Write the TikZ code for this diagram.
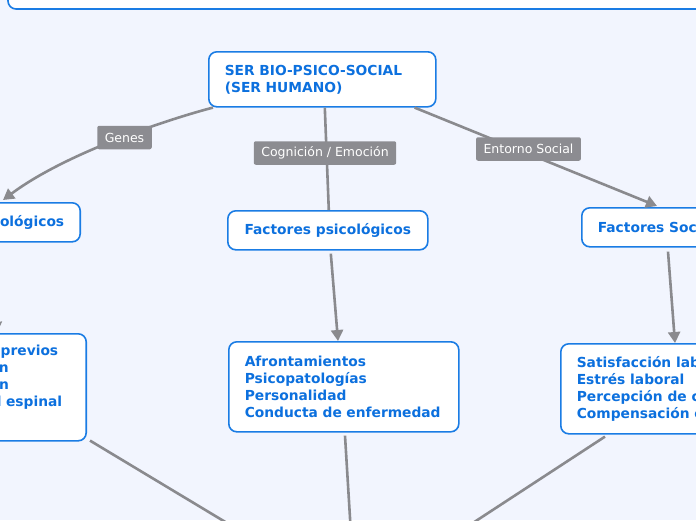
\documentclass[tikz,border=0pt]{standalone}
\usepackage{fontspec}
\setmainfont{DejaVu Sans}
\usetikzlibrary{arrows.meta,calc}
\definecolor{bg}{RGB}{242,245,254}
\definecolor{bord}{RGB}{26,124,228}
\definecolor{txt}{RGB}{12,112,222}
\definecolor{lin}{RGB}{138,138,142}
\definecolor{lab}{RGB}{140,140,145}
\tikzset{
  box/.style={draw=bord, line width=1.6pt, fill=white, rounded corners=8pt,
    text=txt, font=\bfseries\fontsize{13.8}{17}\selectfont, align=left,
    inner xsep=16pt, inner ysep=4pt},
  lbl/.style={fill=lab, rounded corners=2pt, text=white,
    font=\fontsize{12.5}{14}\selectfont, inner xsep=7.5pt, inner ysep=2pt,
    minimum height=23.5pt},
  conn/.style={draw=lin, line width=2.6pt},
  arr/.style={conn, -{Triangle[length=11pt,width=12pt]}},
}
\begin{document}
\begin{tikzpicture}[x=1pt,y=-1pt]
\useasboundingbox (0,0) rectangle (696,520);
\fill[bg] (0,0) rectangle (696,520);
\begin{scope}
\clip (0,0) rectangle (696,520);
% top box
\draw[draw=bord, line width=1.6pt, fill=white, rounded corners=8pt] (8,-30) rectangle (720,9);
% nodes
\node[box, anchor=north west, text width=195pt, minimum height=55pt] (root) at (208,51) {SER BIO-PSICO-SOCIAL\\(SER HUMANO)};
\node[box, anchor=north east, minimum height=39pt] (bio) at (81,202) {Factores biológicos};
\node[box, anchor=north west, minimum width=200pt, minimum height=39pt] (psico) at (227,210) {Factores psicológicos};
\node[box, anchor=north west, minimum height=39pt] (social) at (581,207) {Factores Sociales};
\node[box, anchor=north east, text width=112pt, minimum height=107pt] (biolist) at (87,333) {Ictus previos\\Lesión\\Fusión\\Canal espinal\\\strut};
\node[box, anchor=north west, text width=198pt, minimum height=90pt] (psicolist) at (228,341) {Afrontamientos\\Psicopatologías\\Personalidad\\Conducta de enfermedad};
\node[box, anchor=north west, minimum height=90pt] (sociallist) at (560,343) {Satisfacción laboral\\Estrés laboral\\Percepción de carga\\Compensación económica};
\coordinate (bioin) at (3,200);
\coordinate (conv) at (355,600);
% connectors
\draw[arr] ($(root.south west)+(5,0)$) .. controls (180,116) and (70,150) .. (bioin);
\draw[conn] ($(root.south)+(2.5,0)$) -- ($(psico.north)+(1,0)$);
\draw[arr] ($(root.south east)+(-22,0)$) -- ($(social.north west)+(76,-1)$);
\draw[arr] ($(psico.south)+(3,3)$) -- ($(psicolist.north west)+(110,0)$);
\draw[arr] ($(social.south west)+(87,4)$) -- ($(sociallist.north west)+(115,0)$);
\draw[arr] (-12,248) -- ($(biolist.north east)+(-90,0)$);
\draw[conn] ($(biolist.south east)+(3,-1)$) -- (conv);
\draw[conn] ($(psicolist.south west)+(117,3)$) -- (conv);
\draw[conn] ($(sociallist.south west)+(45,2)$) -- (conv);
% labels
\node[lbl] (genes) at (124.5,137.5) {Genes};
\node[lbl] (cog) at (325,153) {Cognición / Emoción};
\node[lbl] (ent) at (528.5,149) {Entorno Social};
\end{scope}
\end{tikzpicture}
\end{document}
